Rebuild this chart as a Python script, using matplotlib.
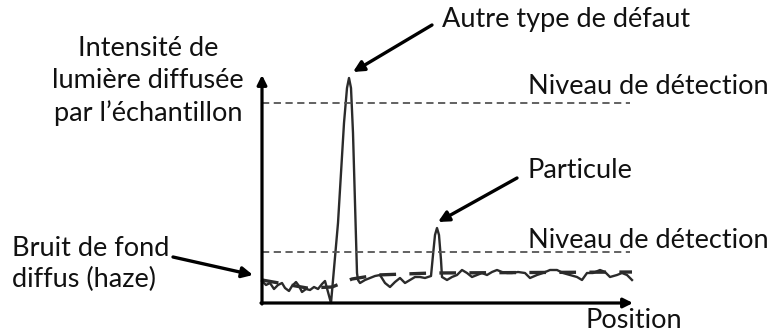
import matplotlib
matplotlib.use("Agg")
import matplotlib.pyplot as plt

W, H = 775, 334

# Signal (arbitrary units): position vs scattered intensity
position = [0, 4, 8, 12, 16, 20, 23, 27, 30, 34, 37, 40, 44, 48, 52, 56, 60, 63, 66, 69,
            76, 82, 85, 87, 89, 91, 93, 95, 96,
            98, 103, 108, 113, 118, 123, 128, 133, 138, 143, 148, 153, 158, 163, 166,
            169, 171, 173, 175, 177, 179, 180,
            185, 190, 195, 200, 205, 210, 215, 220, 225, 230, 235, 240, 245, 250, 256,
            263, 268, 275, 281, 288, 295, 301, 308, 315, 320, 325, 331, 338, 343, 348,
            355, 360, 365, 370]
intensity = [22, 18, 20, 14, 18, 20, 15, 12, 17, 21, 17, 11, 14, 13, 16, 14, 19, 22, 11, 0,
             80, 180, 215, 225, 215, 170, 100, 30, 23,
             20, 23, 25, 27, 28, 20, 16, 21, 25, 20, 23, 26, 26, 25, 26,
             27, 48, 68, 75, 68, 43, 26,
             23, 26, 28, 33, 30, 26, 28, 30, 28, 31, 33, 31, 30, 30, 31,
             30, 25, 28, 30, 33, 33, 30, 28, 26, 23, 30, 30, 33, 31, 26,
             28, 30, 28, 23]

# Diffuse background (haze) trend
haze_position = [0, 45, 70, 90, 115, 170, 370]
haze_intensity = [23, 15, 16, 24, 28, 30, 31]

# Detection thresholds
detection_high = 200
detection_low = 51
x_max, y_max = 371, 228

fig = plt.figure(figsize=(W / 100, H / 100), dpi=100)
ax = fig.add_axes([262 / W, (H - 303) / H, 371 / W, 228 / H])
ax.set_xlim(0, x_max)
ax.set_ylim(0, y_max)
ax.axis("off")

dark = "#2b2b2b"
ax.plot(position, intensity, color=dark, lw=1.7, solid_joinstyle="round", clip_on=False)
ax.plot(haze_position, haze_intensity, color=dark, lw=2.4, dashes=(5, 4), clip_on=False)

for lvl in (detection_high, detection_low):
    ax.plot([0, 368], [lvl, lvl], color="#555555", lw=1.3, dashes=(4, 2.5))

# axes arrows
ax.annotate("", xy=(x_max, 0), xytext=(-1, 0),
            arrowprops=dict(arrowstyle="-|>", lw=2.3, color="black",
                            mutation_scale=14, shrinkA=0, shrinkB=0), annotation_clip=False)
ax.annotate("", xy=(0, y_max), xytext=(0, -1),
            arrowprops=dict(arrowstyle="-|>", lw=2.3, color="black",
                            mutation_scale=14, shrinkA=0, shrinkB=0), annotation_clip=False)

def fx(px):
    return px / W

def fy(py):
    return 1 - py / H

font = dict(family="Lato", fontsize=19.5, color="#111111")

fig.text(fx(148), fy(81), "Intensité de\nlumière diffusée\npar l\u2019échantillon",
         ha="center", va="center", linespacing=1.33, **font)
fig.text(fx(442), fy(20), "Autre type de défaut", ha="left", va="center", **font)
fig.text(fx(528), fy(87), "Niveau de détection", ha="left", va="center", **font)
fig.text(fx(527), fy(170), "Particule", ha="left", va="center", **font)
fig.text(fx(528), fy(240), "Niveau de détection", ha="left", va="center", **font)
fig.text(fx(12), fy(264), "Bruit de fond\ndiffus (haze)", ha="left", va="center",
         linespacing=1.3, **font)
fig.text(fx(585), fy(321), "Position", ha="left", va="center", **font)

arrow = dict(arrowstyle="-|>", lw=2.4, color="black", mutation_scale=16,
             shrinkA=0, shrinkB=0)
for (x0, y0), (x1, y1) in [((432, 25), (353, 72)),
                           ((517, 178), (438, 222)),
                           ((173, 257), (253, 275))]:
    fig.add_artist(matplotlib.patches.FancyArrowPatch(
        (fx(x0), fy(y0)), (fx(x1), fy(y1)), transform=fig.transFigure, **arrow))

fig.savefig("out.png", dpi=100)
